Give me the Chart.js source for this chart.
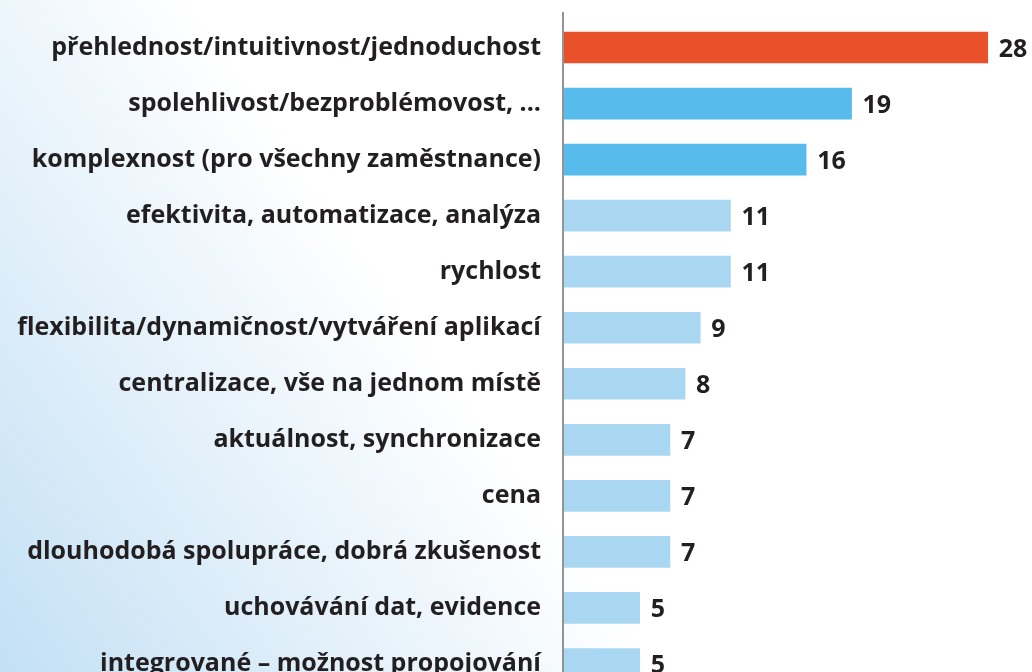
<!DOCTYPE html>
<html>
<head>
<meta charset="utf-8">
<script src="https://cdn.jsdelivr.net/npm/chart.js@4/dist/chart.umd.min.js"></script>
<style>
  html, body {
    margin: 0;
    padding: 0;
    width: 1032px;
    height: 672px;
    overflow: hidden;
    background: linear-gradient(55deg, #c3e0f5 0%, #ffffff 44%);
  }
  canvas { display: block; }
</style>
</head>
<body>
<canvas id="chart" width="1032" height="692"></canvas>
<script>
const labels = [
  "přehlednost/intuitivnost/jednoduchost",
  "spolehlivost/bezproblémovost, ...",
  "komplexnost (pro všechny zaměstnance)",
  "efektivita, automatizace, analýza",
  "rychlost",
  "flexibilita/dynamičnost/vytváření aplikací",
  "centralizace, vše na jednom místě",
  "aktuálnost, synchronizace",
  "cena",
  "dlouhodobá spolupráce, dobrá zkušenost",
  "uchovávání dat, evidence",
  "integrované – možnost propojování"
];
const values = [28, 19, 16, 11, 11, 9, 8, 7, 7, 7, 5, 5];

const barColors = ["#e8512a", "#57bbeb", "#57bbeb", "#a9d7f2", "#a9d7f2", "#a9d7f2",
                   "#a9d7f2", "#a9d7f2", "#a9d7f2", "#a9d7f2", "#a9d7f2", "#a9d7f2"];

const textColor = "#231f20";

// draws the numbers next to each bar
const valueLabels = {
  id: "valueLabels",
  afterDatasetsDraw(chart) {
    const ctx = chart.ctx;
    const meta = chart.getDatasetMeta(0);
    ctx.save();
    ctx.font = "bold 25px 'Open Sans'";
    ctx.fillStyle = textColor;
    ctx.textAlign = "left";
    ctx.textBaseline = "middle";
    meta.data.forEach((bar, i) => {
      ctx.fillText(values[i], bar.x + 11, bar.y + 2);
    });
    ctx.restore();
  }
};

// vertical axis line, starts a bit above the first bar
const axisLine = {
  id: "axisLine",
  beforeDatasetsDraw(chart) {
    const ctx = chart.ctx;
    const x = chart.chartArea.left - 1;
    ctx.save();
    ctx.strokeStyle = "#707070";
    ctx.lineWidth = 1.5;
    ctx.beginPath();
    ctx.moveTo(x, 12);
    ctx.lineTo(x, chart.chartArea.bottom);
    ctx.stroke();
    ctx.restore();
  }
};

const ctx = document.getElementById("chart");
const chart = new Chart(ctx, {
  type: "bar",
  data: {
    labels: labels,
    datasets: [{
      data: values,
      backgroundColor: barColors,
      borderWidth: 0,
      barThickness: 31
    }]
  },
  options: {
    indexAxis: "y",
    responsive: false,
    animation: false,
    layout: {
      padding: { top: 19.5, right: 14, bottom: 0, left: 0 }
    },
    plugins: {
      legend: { display: false },
      tooltip: { enabled: false }
    },
    scales: {
      x: {
        display: false,
        min: 0,
        max: 30
      },
      y: {
        afterFit(scale) {
          scale.width = 564;
          scale.paddingTop = 0;
          scale.paddingBottom = 0;
        },
        border: { display: false },
        grid: { display: false, drawTicks: false },
        ticks: {
          color: textColor,
          padding: 23,
          font: { family: "Open Sans", weight: "bold", size: 25 }
        }
      }
    }
  },
  plugins: [valueLabels, axisLine]
});
</script>
</body>
</html>
